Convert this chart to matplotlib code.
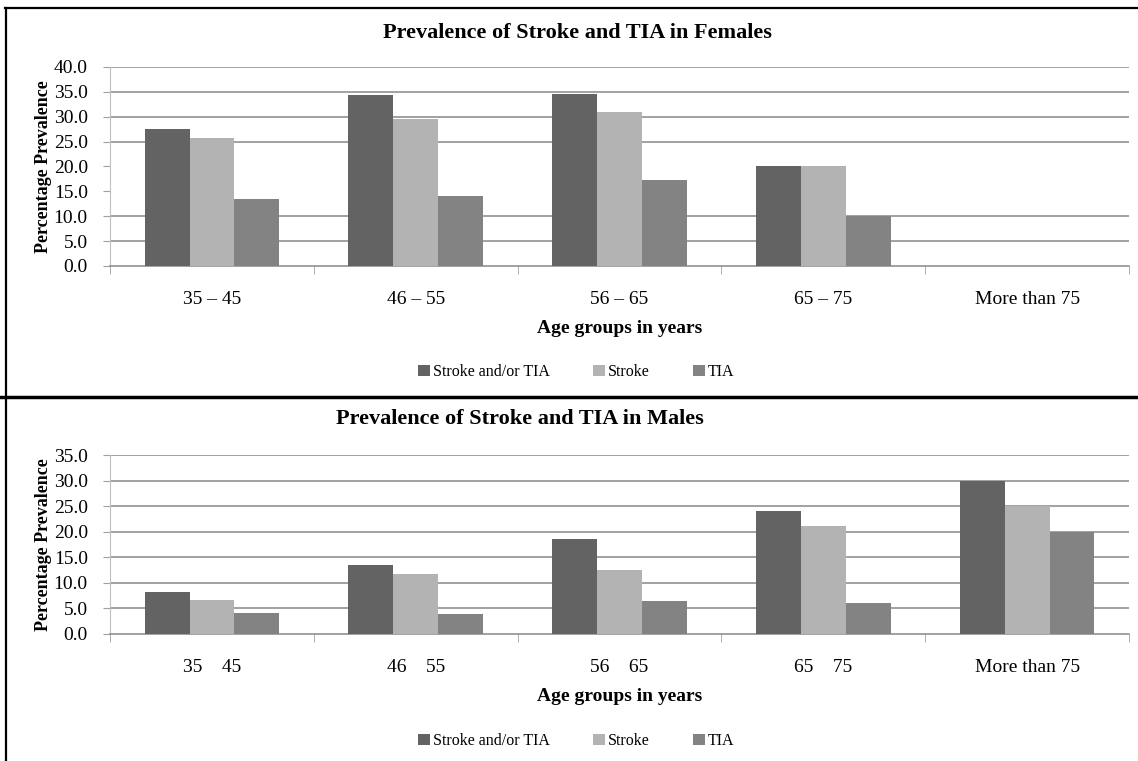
import numpy as np
import matplotlib.pyplot as plt
from matplotlib.lines import Line2D

plt.rcParams['font.family'] = ['Liberation Serif', 'DejaVu Serif']
plt.rcParams['figure.dpi'] = 100

# ---- data ----
age_groups = ['35 – 45', '46 – 55', '56 – 65', '65 – 75', 'More than 75']
age_groups_m = ['35    45', '46    55', '56    65', '65    75', 'More than 75']
series = ['Stroke and/or TIA', 'Stroke', 'TIA']

fem_any = [27.5, 34.4, 34.6, 20.1, 0.0]
fem_stroke = [25.8, 29.6, 31.0, 20.1, 0.0]
fem_tia = [13.4, 14.0, 17.2, 10.0, 0.0]

male_any = [8.1, 13.5, 18.6, 24.1, 30.0]
male_stroke = [6.5, 11.6, 12.5, 21.1, 25.0]
male_tia = [4.1, 3.9, 6.3, 6.0, 20.0]

# gridlines actually visible in the scanned original
fem_grid = [5, 10, 25, 30, 35, 40]
male_grid = [5, 10, 15, 20, 25, 30, 35]

colors = ['#636363', '#b3b3b3', '#838383']
grid_c = '#878787'


def draw_panel(ax, vals, labels, ymax, grid_vals):
    x = np.arange(len(labels))
    w = 0.22
    for i, (v, c) in enumerate(zip(vals, colors)):
        ax.bar(x + (i - 1) * w, v, w, color=c, label=series[i], zorder=3)

    ax.set_xlim(-0.5, len(labels) - 0.5)
    ax.set_ylim(0, ymax)
    yt = list(range(0, ymax + 1, 5))
    ax.set_yticks(yt)
    ax.set_yticklabels([f'{t:.1f}' for t in yt], fontsize=14)
    ax.grid(False)
    for t in grid_vals:
        ax.axhline(t, color=grid_c, lw=1.1, zorder=1)

    ax.set_xticks(x)
    ax.set_xticklabels(labels, fontsize=14)
    ax.set_xticks(np.arange(-0.5, len(labels)), minor=True)
    ax.tick_params(axis='x', which='major', length=0, pad=18)
    ax.tick_params(axis='x', which='minor', length=6, color='#a0a0a0', direction='out')
    ax.tick_params(axis='y', length=5, color='#a0a0a0', pad=11)

    for s in ['top', 'right']:
        ax.spines[s].set_visible(False)
    ax.spines['left'].set_color('#c0c0c0')
    ax.spines['bottom'].set_color(grid_c)
    ax.spines['bottom'].set_linewidth(1.1)

    ax.set_ylabel('Percentage Prevalence', fontsize=13, fontweight='bold', labelpad=1)
    ax.set_xlabel('Age groups in years', fontsize=14, fontweight='bold', labelpad=9)


fig = plt.figure(figsize=(11.38, 7.61))

ax1 = fig.add_axes([0.0967, 0.6505, 0.8954, 0.2615])
draw_panel(ax1, [fem_any, fem_stroke, fem_tia], age_groups, 40, fem_grid)
fig.text(577 / 1138, 1 - 33 / 761, 'Prevalence of Stroke and TIA in Females',
         ha='center', va='center', fontsize=16, fontweight='bold')

ax2 = fig.add_axes([0.0967, 0.1675, 0.8954, 0.2346])
draw_panel(ax2, [male_any, male_stroke, male_tia], age_groups_m, 35, male_grid)
fig.text(520 / 1138, 1 - 419 / 761, 'Prevalence of Stroke and TIA in Males',
         ha='center', va='center', fontsize=16, fontweight='bold')

# legends below each panel
for ypix in (372, 741):
    h, l = ax1.get_legend_handles_labels()
    fig.legend(h, l, loc='center', bbox_to_anchor=(576 / 1138, 1 - ypix / 761),
               ncol=3, frameon=False, fontsize=11.5, handlelength=0.75,
               handleheight=0.75, handletextpad=0.2, columnspacing=2.7)

# panel borders
fig.add_artist(Line2D([5 / 1138, 1], [1 - 8 / 761, 1 - 8 / 761],
                      transform=fig.transFigure, color='black', lw=1.6))
fig.add_artist(Line2D([6 / 1138, 6 / 1138], [0, 1 - 8 / 761],
                      transform=fig.transFigure, color='black', lw=1.6))
fig.add_artist(Line2D([0, 1], [1 - 397 / 761, 1 - 397 / 761],
                      transform=fig.transFigure, color='black', lw=2.5))

fig.savefig('out.png', dpi=100)
